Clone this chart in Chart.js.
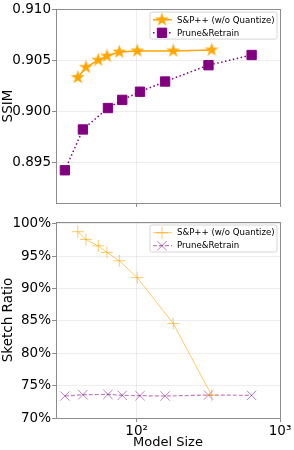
<!DOCTYPE html>
<html>
<head>
<meta charset="utf-8">
<script src="https://cdn.jsdelivr.net/npm/chart.js@4/dist/chart.umd.min.js"></script>
<style>
  html, body { margin: 0; padding: 0; background: #fff; }
  #wrap { position: relative; width: 294px; height: 450px; }
  canvas { position: absolute; left: 0; }
  #top { top: 0; }
  #bottom { top: 212px; }
</style>
</head>
<body>
<div id="wrap">
  <canvas id="top" width="294" height="212"></canvas>
  <canvas id="bottom" width="294" height="238"></canvas>
</div>
<script>
// data
const seriesNames = ['S&P++ (w/o Quantize)', 'Prune&Retrain'];
const sizeSP = [38.9, 44.3, 54.0, 62.1, 75.7, 101, 180, 334];
const sizePR = [31.6, 42.2, 63.1, 79.4, 105.6, 158, 317, 634];
const ssimSP = [0.9033, 0.9043, 0.9050, 0.9054, 0.9058, 0.9059, 0.9059, 0.9060];
const ssimPR = [0.8942, 0.8982, 0.9003, 0.9011, 0.9019, 0.9029, 0.9045, 0.9055];
const ratioSP = [98.8, 97.6, 96.6, 95.6, 94.3, 91.7, 84.6, 73.5];
const ratioPR = [73.4, 73.6, 73.65, 73.5, 73.45, 73.4, 73.55, 73.5];
const sizeTicks = [100, 1000];
const ssimTicks = [0.895, 0.900, 0.905, 0.910];
const ratioTicks = [70, 75, 80, 85, 90, 95, 100];

const FONT = 'DejaVu Sans';
const AXIS = '#8c8c8c';
const GRID = 'rgba(0,0,0,0.07)';

function pts(xs, ys) {
  return xs.map((x, i) => ({ x: x, y: ys[i] }));
}

function makeStar(r, color) {
  const c = document.createElement('canvas');
  c.width = c.height = Math.ceil(r * 2 + 2);
  const g = c.getContext('2d');
  const cx = c.width / 2, cy = c.height / 2;
  g.beginPath();
  for (let k = 0; k < 10; k++) {
    const rr = k % 2 ? r * 0.382 : r;
    const a = -Math.PI / 2 + k * Math.PI / 5;
    g.lineTo(cx + rr * Math.cos(a), cy + rr * Math.sin(a));
  }
  g.closePath();
  g.fillStyle = color;
  g.fill();
  return c;
}

const star = makeStar(7.4, '#FFA500');

// axes box on all four sides, like matplotlib spines
const frame = {
  id: 'frame',
  afterDraw(chart) {
    const { ctx, chartArea: a } = chart;
    ctx.save();
    ctx.strokeStyle = AXIS;
    ctx.lineWidth = 1;
    ctx.strokeRect(Math.round(a.left) + 0.5, Math.round(a.top) + 0.5,
      Math.round(a.right - a.left), Math.round(a.bottom - a.top));
    ctx.restore();
  }
};

// legend in the upper right corner, inside the axes
const legendBox = {
  id: 'legendBox',
  afterDraw(chart) {
    const { ctx, chartArea: a } = chart;
    const w = 127, h = 27;
    const x0 = a.right - 3 - w, y0 = a.top + 3;
    ctx.save();
    ctx.beginPath();
    if (ctx.roundRect) ctx.roundRect(x0, y0, w, h, 2); else ctx.rect(x0, y0, w, h);
    ctx.fillStyle = 'rgba(255,255,255,0.85)';
    ctx.fill();
    ctx.strokeStyle = '#d6d6d6';
    ctx.lineWidth = 1;
    ctx.stroke();
    chart.data.datasets.forEach((ds, i) => {
      const y = y0 + 7.7 + i * 13;
      ctx.strokeStyle = ds.borderColor;
      ctx.lineWidth = ds.borderWidth;
      ctx.setLineDash(ds.borderDash || []);
      ctx.beginPath();
      ctx.moveTo(x0 + 3, y);
      ctx.lineTo(x0 + 22, y);
      ctx.stroke();
      ctx.setLineDash([]);
      ctx.fillStyle = ds.pointBackgroundColor;
      ctx.strokeStyle = ds.pointBorderColor;
      ctx.lineWidth = ds.pointBorderWidth;
      Chart.helpers.drawPoint(ctx, { pointStyle: ds.pointStyle, radius: ds.pointRadius, rotation: 0, borderWidth: ds.pointBorderWidth }, x0 + 12, y);
      ctx.fillStyle = '#000';
      ctx.font = '8.6px "' + FONT + '"';
      ctx.textBaseline = 'middle';
      ctx.textAlign = 'left';
      ctx.fillText(ds.label, x0 + 27, y + 0.5);
    });
    ctx.restore();
  }
};

function xScale(showLabels, height) {
  return {
    type: 'logarithmic',
    min: 27.4,
    max: 1000,
    afterBuildTicks: s => { s.ticks = sizeTicks.map(v => ({ value: v })); },
    afterFit: s => { s.height = height; s.paddingLeft = 0; s.paddingRight = 0; },
    grid: { color: GRID, tickColor: AXIS, tickLength: 4, drawTicks: true },
    border: { display: false },
    ticks: {
      display: showLabels,
      autoSkip: false,
      maxRotation: 0,
      padding: 1,
      color: '#000',
      font: { family: FONT, size: 13.5 },
      callback: v => v === 100 ? '10²' : v === 1000 ? '10³' : ''
    },
    title: {
      display: showLabels,
      text: 'Model Size',
      color: '#000',
      padding: 0,
      font: { family: FONT, size: 13 }
    }
  };
}

function yScale(min, max, ticks, fmt, title) {
  return {
    min: min,
    max: max,
    afterBuildTicks: s => { s.ticks = ticks.map(v => ({ value: v })); },
    afterFit: s => { s.width = 56; },
    grid: { color: GRID, tickColor: AXIS, tickLength: 4, drawTicks: true },
    border: { display: false },
    ticks: {
      autoSkip: false,
      padding: 1,
      color: '#000',
      font: { family: FONT, size: 13.5 },
      callback: fmt
    },
    title: {
      display: true,
      text: title,
      color: '#000',
      padding: 0,
      font: { family: FONT, size: 13.5 }
    }
  };
}

Chart.defaults.font.family = FONT;

new Chart(document.getElementById('top'), {
  type: 'line',
  data: {
    datasets: [
      {
        label: seriesNames[0],
        data: pts(sizeSP, ssimSP),
        borderColor: '#FFA500',
        borderWidth: 1.5,
        pointStyle: star,
        pointRadius: 7,
        pointBackgroundColor: '#FFA500',
        pointBorderColor: '#FFA500',
        pointBorderWidth: 1
      },
      {
        label: seriesNames[1],
        data: pts(sizePR, ssimPR),
        borderColor: '#800080',
        borderWidth: 1.5,
        borderDash: [1.5, 2.5],
        pointStyle: 'rect',
        pointRadius: 6.6,
        pointBackgroundColor: '#800080',
        pointBorderColor: '#800080',
        pointBorderWidth: 1
      }
    ]
  },
  options: {
    responsive: false,
    animation: false,
    layout: { padding: { top: 7, right: 14, left: 0, bottom: 0 } },
    plugins: { legend: { display: false }, tooltip: { enabled: false } },
    scales: {
      x: xScale(false, 9),
      y: yScale(0.891, 0.910, ssimTicks, v => v.toFixed(3), 'SSIM')
    }
  },
  plugins: [frame, legendBox]
});

new Chart(document.getElementById('bottom'), {
  type: 'line',
  data: {
    datasets: [
      {
        label: seriesNames[0],
        data: pts(sizeSP, ratioSP),
        borderColor: 'rgba(255,165,0,0.6)',
        borderWidth: 1,
        pointStyle: 'cross',
        pointRadius: 6,
        pointBackgroundColor: 'rgba(255,165,0,0.6)',
        pointBorderColor: 'rgba(255,165,0,0.6)',
        pointBorderWidth: 1
      },
      {
        label: seriesNames[1],
        data: pts(sizePR, ratioPR),
        borderColor: 'rgba(128,0,128,0.5)',
        borderWidth: 1.2,
        borderDash: [4, 2],
        pointStyle: 'crossRot',
        pointRadius: 6.6,
        pointBackgroundColor: 'rgba(128,0,128,0.5)',
        pointBorderColor: 'rgba(128,0,128,0.5)',
        pointBorderWidth: 1
      }
    ]
  },
  options: {
    responsive: false,
    animation: false,
    layout: { padding: { top: 10, right: 14, left: 0, bottom: 0 } },
    plugins: { legend: { display: false }, tooltip: { enabled: false } },
    scales: {
      x: xScale(true, 32),
      y: yScale(70, 100.3, ratioTicks, v => v + '%', 'Sketch Ratio')
    }
  },
  plugins: [frame, legendBox]
});
</script>
</body>
</html>
